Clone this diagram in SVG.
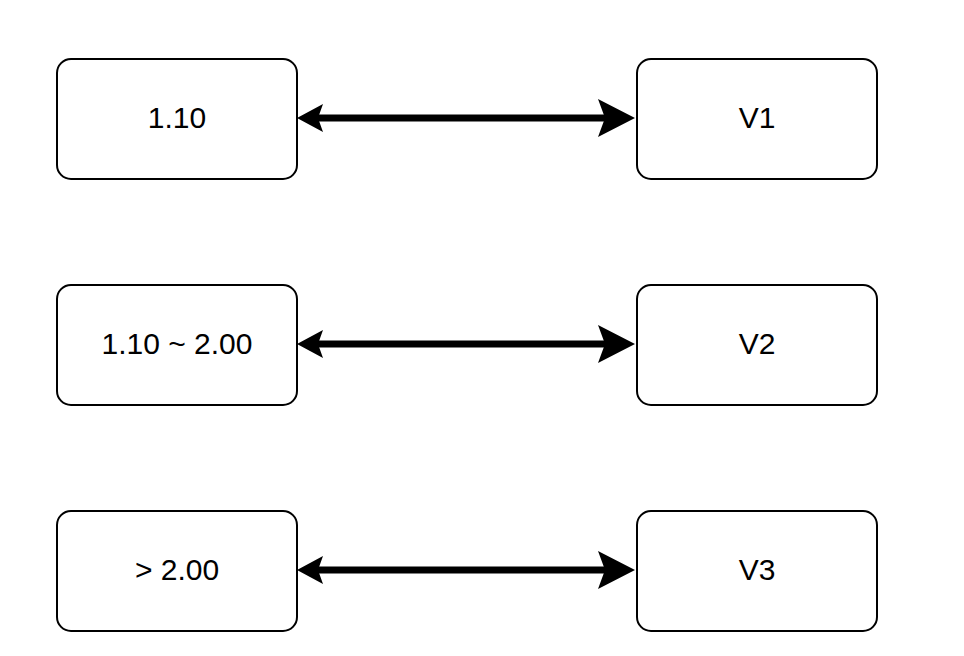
<svg xmlns="http://www.w3.org/2000/svg" width="964" height="656" viewBox="0 0 964 656">
<style>
.box{fill:#fff;stroke:#000;stroke-width:2}
.lbl{font-family:"Liberation Sans",Arial,sans-serif;font-size:30px;fill:#000;text-anchor:middle;dominant-baseline:central}
.edge{stroke:#000;stroke-width:7;fill:none}
</style>
<defs>
<marker id="endA" markerUnits="userSpaceOnUse" markerWidth="40" markerHeight="40" viewBox="0 0 40 40" refX="7" refY="20" orient="auto">
<path d="M0,1 L37,20 L0,39 L7,20 Z" fill="#000"/>
</marker>
<marker id="startA" markerUnits="userSpaceOnUse" markerWidth="30" markerHeight="30" viewBox="0 0 30 30" refX="21" refY="15" orient="auto">
<path d="M26,1 L0,15 L26,29 L21,15 Z" fill="#000"/>
</marker>
</defs>
<rect width="964" height="656" fill="#fff"/>
<g id="connectors">
<line class="edge" x1="318" y1="118" x2="605" y2="118" marker-start="url(#startA)" marker-end="url(#endA)"/>
<line class="edge" x1="318" y1="344" x2="605" y2="344" marker-start="url(#startA)" marker-end="url(#endA)"/>
<line class="edge" x1="318" y1="570" x2="605" y2="570" marker-start="url(#startA)" marker-end="url(#endA)"/>
</g>
<g id="n1"><rect class="box" x="57" y="59" width="240" height="120" rx="14"/><text class="lbl" x="177" y="117">1.10</text></g>
<g id="v1"><rect class="box" x="637" y="59" width="240" height="120" rx="14"/><text class="lbl" x="757" y="117">V1</text></g>
<g id="n2"><rect class="box" x="57" y="285" width="240" height="120" rx="14"/><text class="lbl" x="177" y="343">1.10 ~ 2.00</text></g>
<g id="v2"><rect class="box" x="637" y="285" width="240" height="120" rx="14"/><text class="lbl" x="757" y="343">V2</text></g>
<g id="n3"><rect class="box" x="57" y="511" width="240" height="120" rx="14"/><text class="lbl" x="177" y="569">&gt; 2.00</text></g>
<g id="v3"><rect class="box" x="637" y="511" width="240" height="120" rx="14"/><text class="lbl" x="757" y="569">V3</text></g>
</svg>
